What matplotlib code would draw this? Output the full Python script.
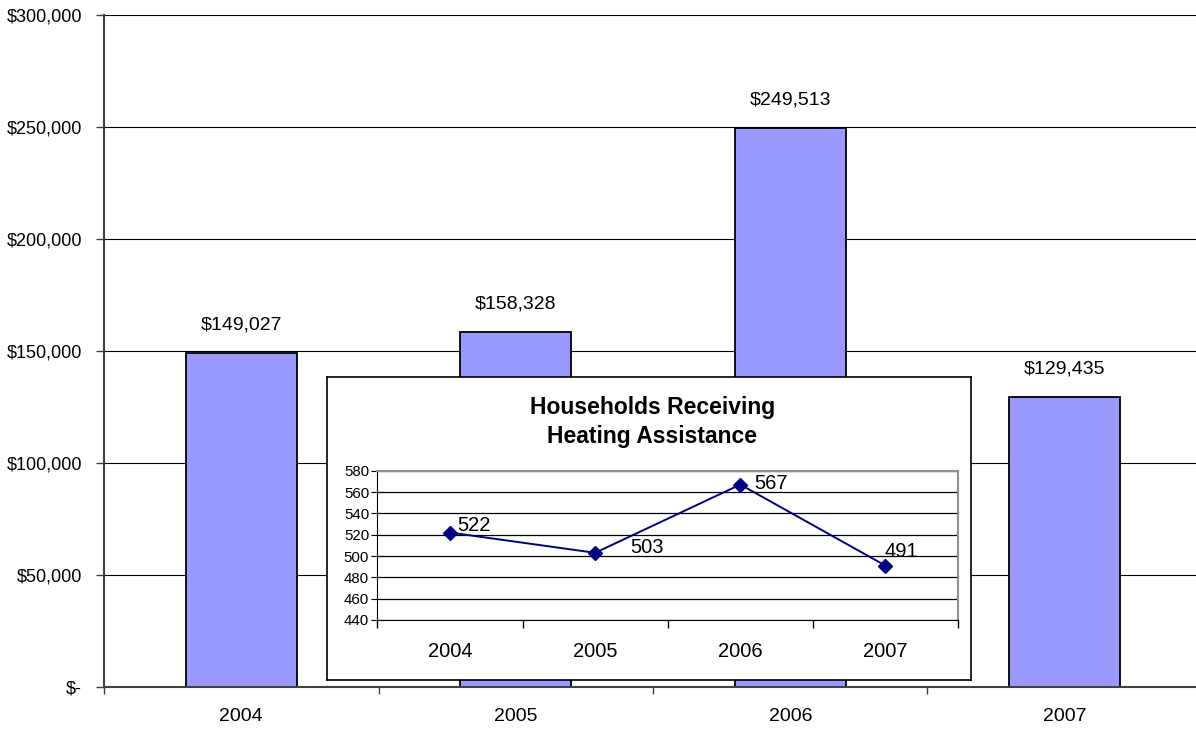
import matplotlib.pyplot as plt
from matplotlib.ticker import FuncFormatter

plt.rcParams['font.family'] = ['Liberation Sans', 'DejaVu Sans']

years = ['2004', '2005', '2006', '2007']
assistance_dollars = [149027, 158328, 249513, 129435]
households = [522, 503, 567, 491]

bar_color = '#9999FF'
line_color = '#000080'


def dollar_fmt(v, _pos):
    return '$-' if v == 0 else f'${v:,.0f}'


fig = plt.figure(figsize=(11.96, 7.3), dpi=100)

# main bar chart: heating assistance dollars
ax = fig.add_axes([0.087, 0.0589, 0.918, 0.9206])
x = range(len(years))
ax.bar(x, assistance_dollars, width=0.405, color=bar_color, edgecolor='black', linewidth=1.3, zorder=2)
for i, v in enumerate(assistance_dollars):
    ax.text(i, v + 12500, f'${v:,}', ha='center', va='center', fontsize=14)

ax.set_xlim(-0.5, len(years) - 0.5)
ax.set_ylim(0, 300000)
ax.set_yticks(range(0, 300001, 50000))
ax.yaxis.set_major_formatter(FuncFormatter(dollar_fmt))
ax.set_xticks(list(x))
ax.set_xticklabels(years)
ax.set_xticks([i - 0.5 for i in range(len(years) + 1)], minor=True)
ax.tick_params(axis='x', which='major', length=0, pad=15, labelsize=14)
ax.tick_params(axis='x', which='minor', length=5, direction='out', width=1, color='#404040')
ax.tick_params(axis='y', length=6, direction='out', width=1, color='#404040', labelsize=13, pad=10)
ax.grid(axis='y', color='black', linewidth=0.8, zorder=0)
for s in ['top', 'right']:
    ax.spines[s].set_visible(False)
ax.spines['left'].set_color('#404040')
ax.spines['left'].set_linewidth(1.5)
ax.spines['bottom'].set_color('#404040')
ax.spines['bottom'].set_linewidth(1.5)

# framed inset panel
box = fig.add_axes([0.2734, 0.0685, 0.5385, 0.4151])
box.set_xticks([])
box.set_yticks([])
for s in box.spines.values():
    s.set_color('black')
    s.set_linewidth(1.2)
box.text(0.505, 0.851, 'Households Receiving\nHeating Assistance', transform=box.transAxes,
         ha='center', va='center', fontsize=16.5, fontweight='bold', linespacing=1.3)

# households line chart
ax2 = fig.add_axes([0.3156, 0.1507, 0.4854, 0.2045])
ax2.plot(list(x), households, color=line_color, linewidth=1.4, marker='D', markersize=7,
         markerfacecolor=line_color, markeredgecolor=line_color, zorder=3)
offsets = [(5, 5), (25, 4), (10, 1), (-1, 10)]
for i, (v, (dx, dy)) in enumerate(zip(households, offsets)):
    ax2.annotate(str(v), (i, v), xytext=(dx, dy), textcoords='offset points',
                 ha='left', va='center', fontsize=14.5)
ax2.set_xlim(-0.5, len(years) - 0.5)
ax2.set_ylim(440, 580)
ax2.set_yticks(range(440, 581, 20))
ax2.set_xticks(list(x))
ax2.set_xticklabels(years)
ax2.set_xticks([i - 0.5 for i in range(len(years) + 1)], minor=True)
ax2.tick_params(axis='x', which='major', length=0, pad=16, labelsize=14.5)
ax2.tick_params(axis='x', which='minor', length=6, direction='out', width=1)
ax2.tick_params(axis='y', length=4, direction='out', labelsize=10.8, pad=2)
ax2.grid(axis='y', color='black', linewidth=0.9, zorder=0)
ax2.spines['top'].set_color('#909090')
ax2.spines['right'].set_color('#909090')
ax2.spines['top'].set_linewidth(1.5)
ax2.spines['right'].set_linewidth(1.5)

fig.savefig('out.png', dpi=100)
